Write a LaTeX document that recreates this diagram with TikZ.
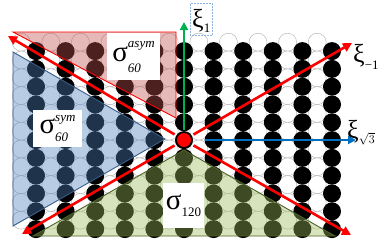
\documentclass[tikz,border=0pt]{standalone}
\usepackage{fontspec}
\setmainfont{Liberation Serif}
\usepackage{xcolor}
\definecolor{softred}{HTML}{C0504D}
\definecolor{softblue}{HTML}{4F81BD}
\definecolor{softgreen}{HTML}{9BBB59}
\definecolor{edgeblue}{HTML}{385D8A}
\definecolor{edgegreen}{HTML}{4F6228}
\definecolor{axisgreen}{HTML}{00B050}
\definecolor{axisblue}{HTML}{0070C0}
\definecolor{boxblue}{HTML}{8DB3E2}
\usetikzlibrary{arrows.meta,calc}
\newcommand{\bigsig}{{\fontsize{29}{29}\selectfont σ}}
\newcommand{\smallscr}[1]{{\fontsize{13}{13}\selectfont #1}}
\newcommand{\xisub}[1]{{\fontsize{13}{13}\selectfont #1}}

\begin{document}
\begin{tikzpicture}[
  x=1pt, y=-1pt,
  site/.style={circle, draw=gray!65, line width=0.4pt, fill=white,
               minimum size=18pt, inner sep=0pt},
  atom/.style={circle, fill=black, minimum size=18pt, inner sep=0pt},
  sector/.style={line width=0.9pt, fill opacity=0.4},
  tagbox/.style={fill=white, inner sep=0pt, align=center},
  ray/.style={red, line width=2.6pt, -{Triangle[length=9pt,width=9pt]}},
  basisarr/.style={line width=2.2pt, -{Triangle[length=8pt,width=8pt]}},
  xilabel/.style={font=\fontsize{26}{26}\selectfont, inner sep=0pt, anchor=base west}
]
\useasboundingbox (0,0) rectangle (390,247);

\foreach \i in {0,...,10}
  \foreach \j in {0,...,10}
    \node[site] (w-\i-\j) at ({21.2+29.6*\i},{42.2+17.8*\j}) {};
\foreach \i in {0,...,10}
  \foreach \j in {0,...,10}
    \node[atom] (b-\i-\j) at ({36+29.6*\i},{51.1+17.8*\j}) {};

\filldraw[sector, fill=softred, draw=red] (13,32) -- (176,32) -- (176,118) -- cycle;
\filldraw[sector, fill=softblue, draw=edgeblue] (13,52) -- (165,139) -- (13,226) -- cycle;
\filldraw[sector, fill=softgreen, draw=edgegreen] (184,150) -- (335,236) -- (33,236) -- cycle;

\node[tagbox, minimum width=53pt, minimum height=47pt] (asym) at (133.5,56.5)
  {\bigsig\rlap{\raisebox{-11pt}{\smallscr{\itshape 60}}}\raisebox{14pt}{\smallscr{\itshape asym}}};
\node[tagbox, minimum width=49pt, minimum height=37pt] (sym) at (57.5,128)
  {\bigsig\rlap{\raisebox{-8pt}{\smallscr{\itshape 60}}}\raisebox{12pt}{\smallscr{\itshape sym}}};
\node[tagbox, minimum width=41pt, minimum height=45pt] (full) at (183.5,205.5)
  {\bigsig\raisebox{-7pt}{\smallscr{120}}};

\node[circle, fill=red, draw=black, line width=0.8pt, minimum size=15pt,
      inner sep=0pt] (origin) at (184,140) {};
\coordinate (ulend) at (8,36);
\coordinate (urend) at (352,43);
\coordinate (llend) at (22,234);
\coordinate (lrend) at (351,235);
\coordinate (northend) at (184,22);
\coordinate (eastend) at (356,140);

\draw[ray, shorten <=3pt] (origin) -- (ulend);
\draw[ray, shorten <=3pt] (origin) -- (urend);
\draw[ray, shorten <=3pt] (origin) -- (llend);
\draw[ray, shorten <=3pt] (origin) -- (lrend);
\draw[basisarr, axisgreen, line width=2.6pt, shorten <=2pt] (origin) -- (northend);
\draw[basisarr, axisblue, shorten <=13pt] (origin) -- (eastend);

\node[draw=boxblue, densely dotted, line width=0.5pt, minimum width=22pt,
      minimum height=32pt, inner sep=0pt] (xibox) at (201,19) {};
\node[xilabel] (xiup) at (192,27) {ξ\raisebox{-5pt}{\xisub{1}}};
\node[xilabel] (ximinus) at (353,62) {ξ\raisebox{-7pt}{\xisub{−1}}};
\node[xilabel] (xiroot) at (347,138) {ξ\raisebox{-5pt}{\xisub{$\sqrt{3}$}}};
\end{tikzpicture}
\end{document}
